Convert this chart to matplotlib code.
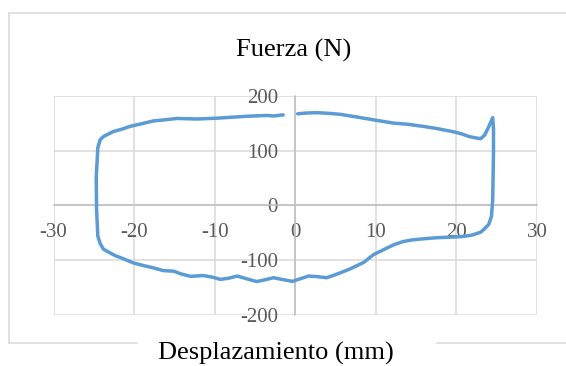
import matplotlib
matplotlib.use("Agg")
import matplotlib.pyplot as plt
from matplotlib.lines import Line2D

# Hysteresis loop: displacement (mm) vs force (N)
disp = [0.3, 1.5, 2.7, 4.0, 5.6, 7.7, 10.1, 12.2, 13.9, 15.9, 17.6, 19.7, 20.5,
        21.7, 23.0, 23.5, 24.0, 24.5, 24.6, 24.6, 24.55, 24.5, 24.35, 24.0, 23.4,
        23.0, 22.0, 21.0, 20.1, 17.6, 15.9, 14.5, 13.4, 12.2, 10.6, 9.7, 8.5, 6.8,
        5.6, 4.7, 3.9, 2.7, 1.65, 0.6, -0.3, -0.6, -1.7, -2.7, -3.8, -4.8, -6.0,
        -7.2, -8.3, -9.3, -10.3, -11.4, -13.0, -14.2, -15.1, -16.4, -17.6, -18.8,
        -20.1, -21.3, -22.3, -23.0, -23.8, -24.2, -24.5, -24.65, -24.7, -24.5,
        -24.2, -23.8, -22.6, -21.5, -20.5, -19.3, -17.6, -16.2, -14.7, -12.2,
        -9.7, -8.1, -6.0, -3.5, -2.7, -1.5]
force = [167, 168.5, 169, 168, 166, 161, 155, 150, 148, 144, 140, 134, 131,
         125, 121.5, 128, 143, 160, 140, 100, 50, 10, -20, -35, -44,
         -49, -54, -56.5, -57.5, -59, -61, -63, -66, -72, -83.5, -90, -104, -116,
         -123, -128, -132, -130, -129, -134, -138.5, -138, -135, -132, -136, -139, -134,
         -129, -133, -135, -131, -128, -129.5, -125, -120, -119, -114, -110,
         -105, -97.5, -92, -86.5, -80, -70, -56, -10, 50, 105,
         120, 125.5, 134.5, 139, 144, 148, 154, 156, 158.5, 157.5,
         159, 160.5, 162.5, 164, 163, 165]

x_ticks = [-30, -20, -10, 0, 10, 20, 30]
y_ticks = [-200, -100, 0, 100, 200]
title = "Fuerza (N)"
x_label = "Desplazamiento (mm)"

W, H = 566, 366
plt.rcParams["font.family"] = ["Liberation Serif", "DejaVu Serif"]
fig = plt.figure(figsize=(W / 100, H / 100), dpi=100)

ax = fig.add_axes([53.5 / W, 1 - 315 / H, (537 - 53.5) / W, (315 - 95.7) / H])
ax.set_xlim(x_ticks[0], x_ticks[-1])
ax.set_ylim(y_ticks[0], y_ticks[-1])
ax.set_xticks(x_ticks)
ax.set_yticks(y_ticks)
ax.set_xticklabels([str(v) for v in x_ticks])
ax.set_yticklabels([str(v) for v in y_ticks])

grid_c = "#d9d9d9"
axis_c = "#bfbfbf"
ax.grid(True, color=grid_c, linewidth=1.1)
ax.set_axisbelow(True)

for side in ("top", "right"):
    ax.spines[side].set_visible(False)
ax.spines["left"].set_position(("data", 0))
ax.spines["bottom"].set_position(("data", 0))
for side in ("left", "bottom"):
    ax.spines[side].set_color(axis_c)
    ax.spines[side].set_linewidth(1.1)
    ax.spines[side].set_zorder(1.5)

ax.tick_params(axis="x", length=0, pad=12.5, labelsize=15, labelcolor="#595959")
ax.tick_params(axis="y", length=0, pad=12.5, labelsize=15, labelcolor="#595959")

ax.plot(disp, force, color="#5B9BD5", linewidth=2.5, solid_joinstyle="round",
        solid_capstyle="round", zorder=3, clip_on=False)

fig.text(293.5 / W, 1 - 50 / H, title, ha="center", va="center", fontsize=19, color="#000000")
fig.text(276 / W, 1 - 353 / H, x_label, ha="center", va="center", fontsize=19, color="#000000")

# chart frame with a gap behind the axis title
def px_line(x0, y0, x1, y1):
    fig.add_artist(Line2D([x0 / W, x1 / W], [1 - y0 / H, 1 - y1 / H],
                          color=grid_c, linewidth=1.1, transform=fig.transFigure))

px_line(9, 12.7, W, 12.7)
px_line(9, 12.7, 9, 343)
px_line(9, 343, 137, 343)
px_line(437, 343, W, 343)

fig.savefig("out.png", dpi=100, facecolor="white")
